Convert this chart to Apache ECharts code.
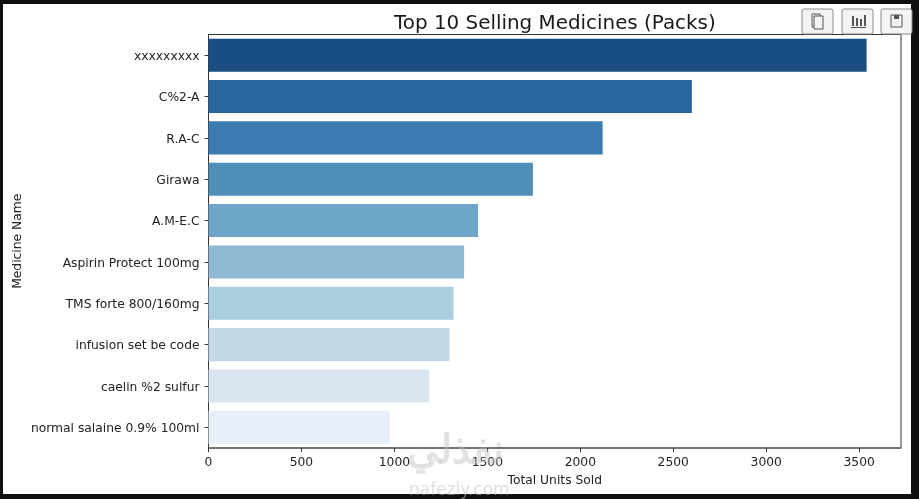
<!DOCTYPE html>
<html><head><meta charset="utf-8">
<style>html,body{margin:0;padding:0;background:#0f0f0f;overflow:hidden}#c{width:919px;height:499px}</style>
<script src="https://cdn.jsdelivr.net/npm/echarts@6/dist/echarts.min.js"></script>
</head><body><div id="c"></div>
<script>
const categories=["xxxxxxxxx","C%2-A","R.A-C","Girawa","A.M-E.C","Aspirin Protect 100mg","TMS forte 800/160mg","infusion set be code","caelin %2 sulfur","normal salaine 0.9% 100ml"];
const units=[3540,2600,2120,1745,1450,1375,1318,1297,1187,975];
const barColors=["#1a4e82","#27659f","#3b7bb0","#5090b8","#6ea5c9","#8fb9d2","#aacde0","#c5d8e6","#d9e5f1","#e8eff8"];
const font="DejaVu Sans";
const ink="#222";
const chart=echarts.init(document.getElementById('c'),null,{renderer:'canvas'});
function btn(x,children){return {type:'group',x:x,y:9,children:[
 {type:'rect',shape:{x:0,y:0,width:31,height:25,r:2},style:{fill:'#f3f3f3',stroke:'#8a8a8a',lineWidth:1}},...children]};}
const ic={stroke:'#555',fill:'none',lineWidth:1};
chart.setOption({
 animation:false,
 backgroundColor:'#0f0f0f',
 title:{text:'Top 10 Selling Medicines (Packs)',left:389,top:9,textStyle:{fontFamily:font,fontWeight:'normal',fontSize:19.9,color:'#1a1a1a'}},
 grid:{left:208.5,right:18,top:34.5,bottom:51,outerBoundsMode:'none',show:true,backgroundColor:'#fff',borderColor:'#333',borderWidth:1},
 xAxis:{type:'value',min:0,max:3725,interval:500,name:'Total Units Sold',nameLocation:'middle',nameGap:27,nameMoveOverlap:false,
  nameTextStyle:{fontFamily:font,fontSize:12.3,color:ink},
  axisLine:{show:true,lineStyle:{color:'#666',width:1.5}},axisTick:{show:true,length:4,lineStyle:{color:'#333'}},
  axisLabel:{fontFamily:font,fontSize:12.3,color:ink,margin:9,showMaxLabel:false,formatter:v=>String(v)},splitLine:{show:false}},
 yAxis:{type:'category',inverse:true,data:categories,name:'Medicine Name',nameLocation:'middle',nameGap:185,nameMoveOverlap:false,
  nameTextStyle:{fontFamily:font,fontSize:12.3,color:ink},
  axisLine:{show:true,lineStyle:{color:'#333',width:1}},axisTick:{show:true,length:4,alignWithLabel:true,lineStyle:{color:'#333'}},
  axisLabel:{fontFamily:font,fontSize:12.3,color:ink,margin:9,verticalAlign:'top',lineHeight:3}},
 series:[{type:'bar',data:units.map((v,i)=>({value:v,itemStyle:{color:barColors[i]}})),barWidth:'80%'}],
 graphic:[
  {type:'rect',z:-1,zlevel:0,shape:{x:3,y:4,width:908,height:490},style:{fill:'#fff'}},
  {type:'text',z:100,left:407,top:432,style:{text:'نفذلي',fontFamily:'"Noto Sans",sans-serif',fontSize:40,fontWeight:'bold',fill:'rgba(190,190,190,0.45)'}},
  {type:'text',z:100,left:409,top:482,style:{text:'nafezly.com',fontFamily:font,fontSize:17,fill:'rgba(190,190,190,0.5)'}},
  btn(802,[{type:'rect',shape:{x:10,y:5,width:8,height:13},style:ic},{type:'rect',shape:{x:12,y:7,width:9,height:13},style:{stroke:'#555',fill:'#f3f3f3',lineWidth:1}}]),
  btn(842,[{type:'rect',shape:{x:10,y:7,width:2,height:10},style:{fill:'#555'}},{type:'rect',shape:{x:14,y:9,width:2,height:8},style:{fill:'#555'}},{type:'rect',shape:{x:18,y:10,width:2,height:7},style:{fill:'#555'}},{type:'rect',shape:{x:22,y:6,width:2,height:11},style:{fill:'#555'}},{type:'rect',shape:{x:9,y:18,width:15,height:1},style:{fill:'#555'}}]),
  btn(881,[{type:'rect',shape:{x:10,y:6,width:11,height:12},style:ic},{type:'rect',shape:{x:13,y:6,width:5,height:4},style:{fill:'#555'}}])
 ]
});
</script></body></html>
